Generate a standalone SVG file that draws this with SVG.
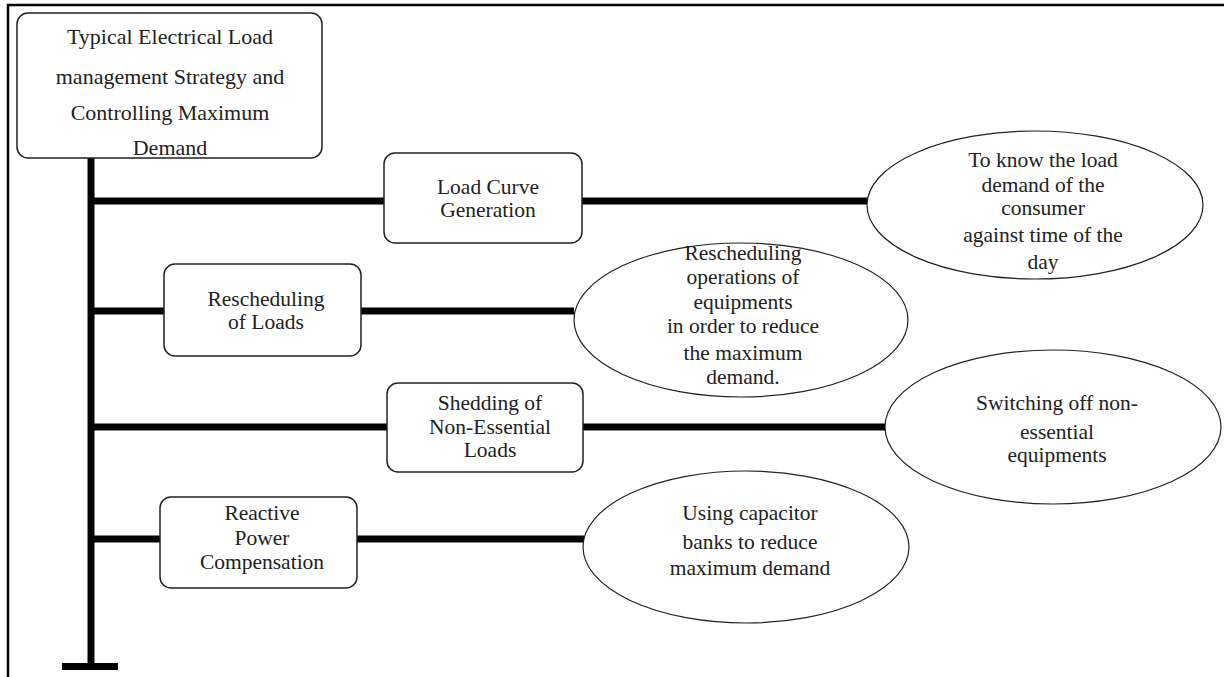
<svg xmlns="http://www.w3.org/2000/svg" width="1224" height="677" viewBox="0 0 1224 677">
<style>
.box{fill:#fff;stroke:#222;stroke-width:1.5}
.ell{fill:#fff;stroke:#222;stroke-width:1.2}
.t{font-family:"Liberation Serif","Times New Roman",serif;font-size:21.5px;fill:#222;text-anchor:middle}
.tt{font-size:22px}
.bar{stroke:#000;stroke-width:7;fill:none}
</style>
<rect width="1224" height="677" fill="#fff"/>
<g id="frame"><path d="M8 677 V5 H1224" fill="none" stroke="#000" stroke-width="2.5"/></g>
<g id="connectors">
<line class="bar" x1="91" y1="158" x2="91" y2="666"/>
<line class="bar" x1="62" y1="666.5" x2="118" y2="666.5"/>
<line class="bar" x1="91" y1="201" x2="384" y2="201"/>
<line class="bar" x1="582" y1="201" x2="867" y2="201"/>
<line class="bar" x1="91" y1="311" x2="164" y2="311"/>
<line class="bar" x1="361" y1="311" x2="574" y2="311"/>
<line class="bar" x1="91" y1="427" x2="387" y2="427"/>
<line class="bar" x1="583" y1="427" x2="886" y2="427"/>
<line class="bar" x1="91" y1="539" x2="160" y2="539"/>
<line class="bar" x1="357" y1="539" x2="584" y2="539"/>
</g>
<g id="title">
<rect class="box" x="17" y="13" width="305" height="145" rx="11"/>
<text class="t tt" x="170" y="44">Typical Electrical Load</text>
<text class="t tt" x="170" y="84">management Strategy and</text>
<text class="t tt" x="170" y="120">Controlling Maximum</text>
<text class="t tt" x="170" y="155">Demand</text>
</g>
<g id="load-curve">
<rect class="box" x="384" y="153" width="198" height="90" rx="11"/>
<text class="t" x="488" y="194">Load Curve</text>
<text class="t" x="488" y="217">Generation</text>
</g>
<g id="load-curve-desc">
<ellipse class="ell" cx="1035" cy="205" rx="168" ry="74"/>
<text class="t" x="1043" y="167">To know the load</text>
<text class="t" x="1043" y="192">demand of the</text>
<text class="t" x="1043" y="215">consumer</text>
<text class="t" x="1043" y="242">against time of the</text>
<text class="t" x="1043" y="269">day</text>
</g>
<g id="rescheduling">
<rect class="box" x="164" y="264" width="197" height="92" rx="11"/>
<text class="t" x="266" y="306">Rescheduling</text>
<text class="t" x="266" y="329">of Loads</text>
</g>
<g id="rescheduling-desc">
<ellipse class="ell" cx="741" cy="320" rx="167" ry="77"/>
<text class="t" x="743" y="260">Rescheduling</text>
<text class="t" x="743" y="284">operations of</text>
<text class="t" x="743" y="309">equipments</text>
<text class="t" x="743" y="333">in order to reduce</text>
<text class="t" x="743" y="360">the maximum</text>
<text class="t" x="743" y="384">demand.</text>
</g>
<g id="shedding">
<rect class="box" x="387" y="383" width="196" height="89" rx="11"/>
<text class="t" x="490" y="410">Shedding of</text>
<text class="t" x="490" y="434">Non-Essential</text>
<text class="t" x="490" y="457">Loads</text>
</g>
<g id="shedding-desc">
<ellipse class="ell" cx="1053" cy="427" rx="168" ry="77"/>
<text class="t" x="1057" y="410">Switching off non-</text>
<text class="t" x="1057" y="439">essential</text>
<text class="t" x="1057" y="462">equipments</text>
</g>
<g id="reactive">
<rect class="box" x="160" y="497" width="197" height="91" rx="11"/>
<text class="t" x="262" y="520">Reactive</text>
<text class="t" x="262" y="545">Power</text>
<text class="t" x="262" y="569">Compensation</text>
</g>
<g id="reactive-desc">
<ellipse class="ell" cx="746" cy="547" rx="163" ry="76"/>
<text class="t" x="750" y="520">Using capacitor</text>
<text class="t" x="750" y="549">banks to reduce</text>
<text class="t" x="750" y="575">maximum demand</text>
</g>
</svg>
